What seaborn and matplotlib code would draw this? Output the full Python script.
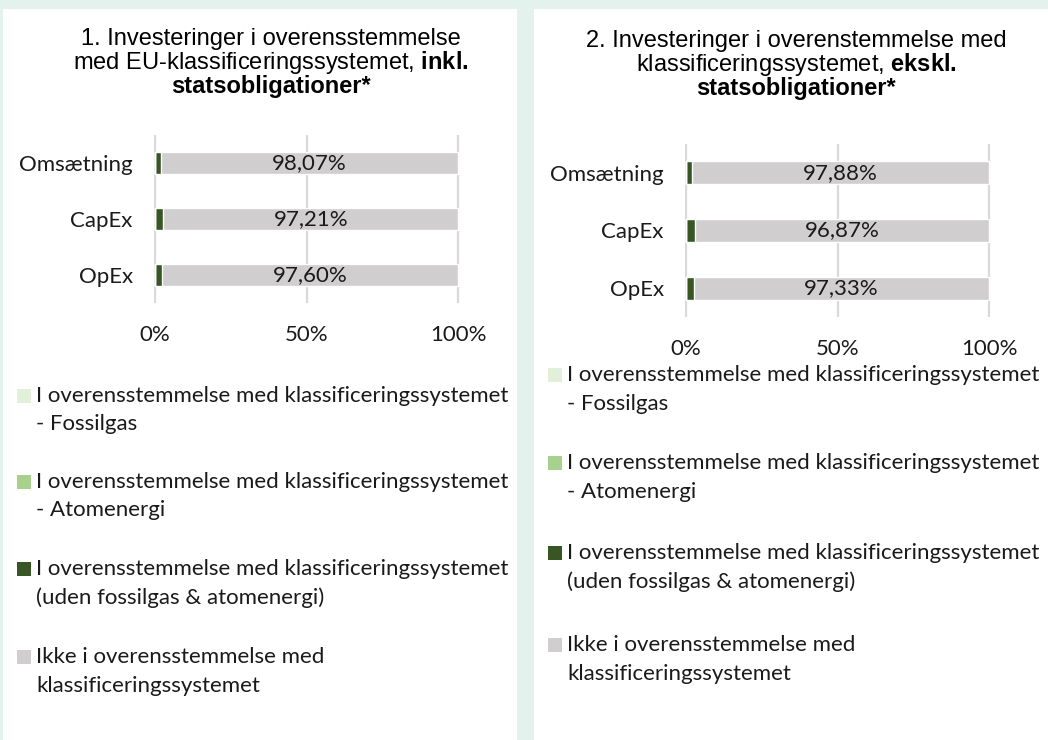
"""
EU-taksonomi: andel af investeringer i overensstemmelse med klassificeringssystemet
"""

import matplotlib
matplotlib.use("Agg")
import pandas as pd
import matplotlib.pyplot as plt
from matplotlib.patches import Rectangle
import seaborn as sns

sns.set_theme(style="white")
plt.rcParams["font.family"] = ["Lato", "DejaVu Sans"]
plt.rcParams["mathtext.fontset"] = "custom"
plt.rcParams["mathtext.rm"] = "Liberation Sans"
plt.rcParams["mathtext.bf"] = "Liberation Sans:bold"

# ---------------------------------------------
# Data
# ---------------------------------------------

CATEGORIES = ["Omsætning", "CapEx", "OpEx"]

FOSSIL_1 = [0.0, 0.0, 0.0]
ATOM_1 = [0.0, 0.0, 0.0]
ALIGNED_1 = [1.93, 2.79, 2.40]
NOT_ALIGNED_1 = [98.07, 97.21, 97.60]

FOSSIL_2 = [0.0, 0.0, 0.0]
ATOM_2 = [0.0, 0.0, 0.0]
ALIGNED_2 = [2.12, 3.13, 2.67]
NOT_ALIGNED_2 = [97.88, 96.87, 97.33]

X_TICKS = [0, 50, 100]
X_TICK_LABELS = ["0%", "50%", "100%"]

LEGEND_LABELS = [
    ["I overensstemmelse med klassificeringssystemet", "- Fossilgas"],
    ["I overensstemmelse med klassificeringssystemet", "- Atomenergi"],
    ["I overensstemmelse med klassificeringssystemet", "(uden fossilgas & atomenergi)"],
    ["Ikke i overensstemmelse med", "klassificeringssystemet"],
]

TITLE_1 = [
    "1. Investeringer i overensstemmelse",
    r"med EU-klassificeringssystemet, $\mathbf{inkl.}$",
    "statsobligationer*",
]
TITLE_2 = [
    "2. Investeringer i overenstemmelse med",
    r"klassificeringssystemet, $\mathbf{ekskl.}$",
    "statsobligationer*",
]

# ---------------------------------------------
# Style
# ---------------------------------------------

C_FOSSIL = "#e2efd9"
C_ATOM = "#a9d18e"
C_ALIGNED = "#375623"
C_NOT = "#d0cece"
COLORS = [C_FOSSIL, C_ATOM, C_ALIGNED, C_NOT]

BG = "#e3f2ed"
TEXT = "#1a1a1a"
FS = 16

W, H = 1048, 740


def fx(x):
    return x / W


def fy(y):
    return 1 - y / H


def draw_panel(ax, fossil, atom, aligned, not_aligned):
    df = pd.DataFrame({
        "Kategori": CATEGORIES,
        "fossil": fossil,
        "atom": atom,
        "aligned": aligned,
        "not": not_aligned,
    })
    df["c1"] = df["fossil"]
    df["c2"] = df["c1"] + df["atom"]
    df["c3"] = df["c2"] + df["aligned"]
    df["c4"] = df["c3"] + df["not"]

    # stacked bars: draw cumulative totals from the back to the front
    for col, color in [("c4", C_NOT), ("c3", C_ALIGNED), ("c2", C_ATOM), ("c1", C_FOSSIL)]:
        sns.barplot(
            data=df, x=col, y="Kategori", orient="h",
            color=color, saturation=1, width=0.4, ax=ax, zorder=2,
        )

    for i, row in df.iterrows():
        ax.text(
            row["c3"] + row["not"] / 2, i,
            f"{row['not']:.2f}%".replace(".", ","),
            ha="center", va="center", fontsize=FS, color=TEXT, zorder=3,
        )

    ax.set_xlim(-0.5, 100.5)
    ax.set_xticks(X_TICKS)
    ax.set_xticklabels(X_TICK_LABELS)
    ax.grid(axis="x", color="#d9d9d9", linewidth=1.6, zorder=0)
    ax.grid(axis="y", visible=False)
    ax.set_axisbelow(True)
    ax.set_xlabel("")
    ax.set_ylabel("")
    for s in ax.spines.values():
        s.set_visible(False)
    ax.tick_params(axis="y", length=0, pad=15, labelsize=FS, labelcolor=TEXT)
    ax.tick_params(axis="x", length=0, pad=16, labelsize=FS, labelcolor=TEXT)
    ax.set_facecolor("none")


def draw_legend(fig, x_box, x_text, first_lines):
    for (y, labels, color) in zip(first_lines, LEGEND_LABELS, COLORS):
        fig.patches.append(Rectangle(
            (fx(x_box), fy(y + 7)), 14 / W, 14 / H,
            transform=fig.transFigure, facecolor=color, edgecolor="none",
        ))
        fig.text(fx(x_text), fy(y), labels[0], ha="left", va="center",
                 fontsize=FS, color=TEXT)
        fig.text(fx(x_text), fy(y + 28.5), labels[1], ha="left", va="center",
                 fontsize=FS, color=TEXT)


def draw_title(fig, cx, lines, ys):
    for i, (line, y) in enumerate(zip(lines, ys)):
        fig.text(fx(cx), fy(y), line, ha="center", va="center",
                 fontsize=17, color="black",
                 family="Liberation Sans",
                 fontweight="bold" if i == 2 else "normal")


fig = plt.figure(figsize=(W / 100, H / 100), dpi=100, facecolor=BG)

# white panels
fig.patches.append(Rectangle((fx(3), 0), 514 / W, fy(9), transform=fig.transFigure,
                             facecolor="white", edgecolor="none", zorder=-1))
fig.patches.append(Rectangle((fx(534), 0), 514 / W, fy(9), transform=fig.transFigure,
                             facecolor="white", edgecolor="none", zorder=-1))

ax1 = fig.add_axes([fx(153.5), fy(303), 306 / W, 168 / H])
ax2 = fig.add_axes([fx(684.5), fy(317), 306 / W, 173 / H])

draw_panel(ax1, FOSSIL_1, ATOM_1, ALIGNED_1, NOT_ALIGNED_1)
draw_panel(ax2, FOSSIL_2, ATOM_2, ALIGNED_2, NOT_ALIGNED_2)

draw_title(fig, 271, TITLE_1, [39, 63, 87])
draw_title(fig, 796, TITLE_2, [41, 65, 89])

draw_legend(fig, 17, 36, [396, 482, 569, 657])
draw_legend(fig, 548, 567, [375, 463, 553, 645])

fig.savefig("out.png", dpi=100, facecolor=BG)
